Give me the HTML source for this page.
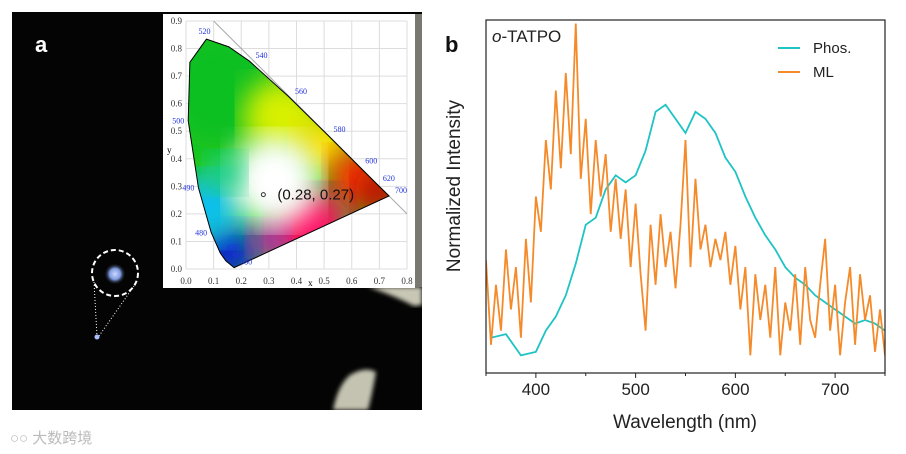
<!DOCTYPE html>
<html><head><meta charset="utf-8">
<style>
body{margin:0;background:#fff;width:906px;height:454px;overflow:hidden;font-family:"Liberation Sans",sans-serif}
svg{position:absolute;left:0;top:0}
</style></head><body>
<svg width="906" height="454">
<defs>
<filter id="blur"><feGaussianBlur stdDeviation="14"/></filter>
<filter id="blur2"><feGaussianBlur stdDeviation="2"/></filter>
<radialGradient id="glow"><stop offset="0" stop-color="#ccd8ff"/><stop offset="0.5" stop-color="#7f9be0"/><stop offset="1" stop-color="#000" stop-opacity="0"/></radialGradient>
<clipPath id="cieclip"><polygon id="locusPoly" points=""/></clipPath>
<clipPath id="photoclip"><rect x="12" y="12" width="410" height="398"/></clipPath>
</defs>
<!-- panel a photo -->
<g clip-path="url(#photoclip)">
<rect x="12" y="12" width="410" height="398" fill="#040404"/>
<path d="M368 287 L422 287 L422 305 L414 306 Q395 296 368 287 Z" fill="#c8c6b4" filter="url(#blur2)"/>
<path d="M333 410 Q338 385 350 375 Q365 366 376 372 Q372 395 368 410 Z" fill="#c4c2b0" filter="url(#blur2)"/>
<path d="M415 14 L422 14 L422 287 L415 287 Z" fill="#7a7870"/>
<text x="35" y="52" font-size="22" font-weight="bold" fill="#fff">a</text>
<circle cx="115" cy="274" r="11" fill="url(#glow)"/>
<circle cx="115" cy="273" r="23" fill="none" stroke="#fff" stroke-width="2" stroke-dasharray="5,3"/>
<line x1="94" y1="282" x2="97" y2="336" stroke="#fff" stroke-dasharray="1,2"/>
<line x1="134" y1="286" x2="99" y2="336" stroke="#fff" stroke-dasharray="1,2"/>
<circle cx="97" cy="337" r="2.5" fill="#aac0ff"/>
</g>
<!-- CIE inset -->
<g id="cie">
<rect x="163" y="14" width="252" height="274" fill="#fff"/>
</g>
<text x="10" y="443" font-size="15" fill="#bbb" font-family="'Liberation Sans','Noto Sans CJK SC',sans-serif">○○ 大数跨境</text>
<!-- panel b -->
<g id="chart"></g>
</svg>
<script>
const NS='http://www.w3.org/2000/svg';
function mk(tag,attrs,parent){const e=document.createElementNS(NS,tag);for(const k in attrs)e.setAttribute(k,attrs[k]);parent.appendChild(e);return e;}

// ---------- CIE inset ----------
const cieX=[0,0.1,0.2,0.3,0.4,0.5,0.6,0.7,0.8];
const cieY=[0,0.1,0.2,0.3,0.4,0.5,0.6,0.7,0.8,0.9];
const locusWl=[380,460,470,480,490,500,510,520,530,540,560,580,600,620,700];
const locusXs=[0.174,0.144,0.124,0.091,0.045,0.008,0.014,0.074,0.155,0.230,0.373,0.512,0.627,0.691,0.735];
const locusYs=[0.005,0.030,0.058,0.133,0.295,0.538,0.750,0.834,0.806,0.754,0.624,0.487,0.372,0.308,0.265];
const labelWl=[380,460,470,480,490,500,520,540,560,580,600,620,700];
const pointX=[0.28], pointY=[0.27];
const cx=x=>186+x*276.25, cy=y=>269-y*275.6;
const cie=document.getElementById('cie');
cieX.forEach(v=>{mk('line',{x1:cx(v),x2:cx(v),y1:cy(0),y2:cy(0.9),stroke:'#ddd','stroke-width':1},cie);});
cieY.forEach(v=>{mk('line',{x1:cx(0),x2:cx(0.8),y1:cy(v),y2:cy(v),stroke:'#ddd','stroke-width':1},cie);});
for(let i=0;i<=8;i++){const v=cieX[i];const t=mk('text',{x:cx(v),y:284,'font-size':9,'text-anchor':'middle','font-family':'Liberation Serif',fill:'#333'},cie);t.textContent=v.toFixed(1);}
for(let i=0;i<cieY.length;i++){const v=cieY[i];const t=mk('text',{x:182,y:cy(v)+3,'font-size':9,'text-anchor':'end','font-family':'Liberation Serif',fill:'#333'},cie);t.textContent=v.toFixed(1);}
let tx=mk('text',{x:cx(0.45),y:286,'font-size':9,'font-family':'Liberation Serif','text-anchor':'middle'},cie);tx.textContent='x';
let ty=mk('text',{x:167,y:cy(0.42),'font-size':9,'font-family':'Liberation Serif'},cie);ty.textContent='y';
mk('line',{x1:cx(0.1),y1:cy(0.9),x2:cx(0.8),y2:cy(0.2),stroke:'#aaa','stroke-width':1},cie);
const pts=locusXs.map((x,i)=>cx(x)+','+cy(locusYs[i])).join(' ');
document.getElementById('locusPoly').setAttribute('points',pts);
const g=mk('g',{'clip-path':'url(#cieclip)'},cie);
mk('rect',{x:180,y:20,width:240,height:260,fill:'#1ec81e'},g);
const blobs=[[0.12,0.65,60,'#10c020'],[0.35,0.55,40,'#d8f000'],[0.5,0.45,30,'#ffe000'],[0.62,0.33,30,'#ff3000'],[0.7,0.28,25,'#c01000'],[0.45,0.15,40,'#ff1060'],[0.15,0.06,30,'#1020d0'],[0.08,0.22,35,'#10c0f0'],[0.3,0.1,20,'#c020c0'],[0.32,0.32,45,'#ffffff'],[0.14,0.35,20,'#20d090']];
blobs.forEach(b=>mk('circle',{cx:cx(b[0]),cy:cy(b[1]),r:b[2],fill:b[3],filter:'url(#blur)'},g));
const loc=mk('polygon',{points:pts,fill:'none',stroke:'#000','stroke-width':1},cie);


labelWl.forEach(w=>{const i=locusWl.indexOf(w);const x=cx(locusXs[i]),y=cy(locusYs[i]);let dx=6,dy=-3,a='start';if(locusXs[i]<0.12&&w<520){dx=-4;dy=3;a='end';}if(w===520){dx=-8;dy=-5;}const t=mk('text',{x:x+dx,y:y+dy,'font-size':8,fill:'#2233dd','text-anchor':a,'font-family':'Liberation Serif'},cie);t.textContent=w;});
pointX.forEach((px,i)=>{mk('circle',{cx:cx(px),cy:cy(pointY[i]),r:2,fill:'none',stroke:'#333'},cie);const t=mk('text',{x:cx(px)+14,y:cy(pointY[i])+5,'font-size':15,fill:'#111'},cie);t.textContent='('+px.toFixed(2)+', '+pointY[i].toFixed(2)+')';});

// ---------- Spectrum chart ----------
const xTicks=[400,500,600,700];
const phosWl=[355,370,385,400,410,420,430,440,450,460,470,480,490,500,510,520,530,540,550,560,570,580,590,600,610,620,630,640,650,660,670,680,690,700,710,720,730,740,750];
const phosVal=[0.10,0.11,0.05,0.06,0.12,0.16,0.22,0.31,0.42,0.44,0.52,0.56,0.54,0.56,0.63,0.74,0.76,0.72,0.68,0.74,0.72,0.68,0.61,0.57,0.50,0.44,0.39,0.35,0.30,0.27,0.25,0.22,0.20,0.18,0.16,0.14,0.15,0.14,0.12];
const mlWl=[350,355,360,365,370,375,380,385,390,395,400,405,410,415,420,425,430,435,440,445,450,455,460,465,470,475,480,485,490,495,500,505,510,515,520,525,530,535,540,545,550,555,560,565,570,575,580,585,590,595,600,605,610,615,620,625,630,635,640,645,650,655,660,665,670,675,680,685,690,695,700,705,710,715,720,725,730,735,740,745,750];
const mlVal=[0.32,0.08,0.25,0.12,0.35,0.18,0.30,0.10,0.38,0.20,0.50,0.40,0.66,0.52,0.80,0.58,0.85,0.62,0.99,0.55,0.72,0.45,0.66,0.50,0.62,0.40,0.55,0.38,0.52,0.30,0.48,0.28,0.12,0.42,0.25,0.45,0.30,0.40,0.24,0.42,0.66,0.30,0.55,0.35,0.42,0.30,0.38,0.32,0.40,0.25,0.36,0.18,0.30,0.05,0.28,0.15,0.25,0.10,0.30,0.05,0.20,0.12,0.28,0.08,0.30,0.15,0.10,0.25,0.38,0.12,0.25,0.05,0.20,0.30,0.08,0.28,0.15,0.22,0.06,0.18,0.05];
const X0=486,X1=885,Y0=373,Y1=20;
const sx=w=>X0+(w-350)/400*(X1-X0), sy=v=>Y0-v*(Y0-Y1);
const ch=document.getElementById('chart');
const clip=mk('clipPath',{id:'plotclip'},ch);mk('rect',{x:X0,y:Y1,width:X1-X0,height:Y0-Y1},clip);
const pg=mk('g',{'clip-path':'url(#plotclip)'},ch);
const p1=mk('polyline',{points:phosWl.map((w,i)=>sx(w)+','+sy(phosVal[i])).join(' '),fill:'none',stroke:'#1fc3c3','stroke-width':1.8},pg);


const p2=mk('polyline',{points:mlWl.map((w,i)=>sx(w)+','+sy(mlVal[i])).join(' '),fill:'none',stroke:'#f58a2a','stroke-width':1.8},pg);


const fr=mk('rect',{x:X0,y:Y1,width:X1-X0,height:Y0-Y1,fill:'none',stroke:'#222','stroke-width':1.2},ch);


[350,400,450,500,550,600,650,700,750].forEach(w=>mk('line',{x1:sx(w),x2:sx(w),y1:Y0,y2:Y0+(w%100===0?5:3),stroke:'#222'},ch));
xTicks.forEach(w=>{const t=mk('text',{x:sx(w),y:395,'font-size':17,'text-anchor':'middle',fill:'#222'},ch);t.textContent=w;});
let xt=mk('text',{x:685,y:428,'font-size':19,'text-anchor':'middle',fill:'#222'},ch);xt.textContent='Wavelength (nm)';


let yt=mk('text',{x:0,y:0,'font-size':19,'text-anchor':'middle',fill:'#222',transform:'translate(460,186) rotate(-90)'},ch);yt.textContent='Normalized Intensity';


let bl=mk('text',{x:445,y:52,'font-size':22,'font-weight':'bold',fill:'#111'},ch);bl.textContent='b';


let tt=mk('text',{x:492,y:42,'font-size':17,fill:'#222'},ch);tt.innerHTML='<tspan font-style="italic">o</tspan>-TATPO';


[['Phos.','#1fc3c3',53],['ML','#f58a2a',77]].forEach(l=>{const lg=mk('g',{},ch);mk('line',{x1:778,x2:800,y1:l[2]-5,y2:l[2]-5,stroke:l[1],'stroke-width':2},lg);const t=mk('text',{x:813,y:l[2],'font-size':15,fill:'#222'},lg);t.textContent=l[0];});
</script>
</body></html>
